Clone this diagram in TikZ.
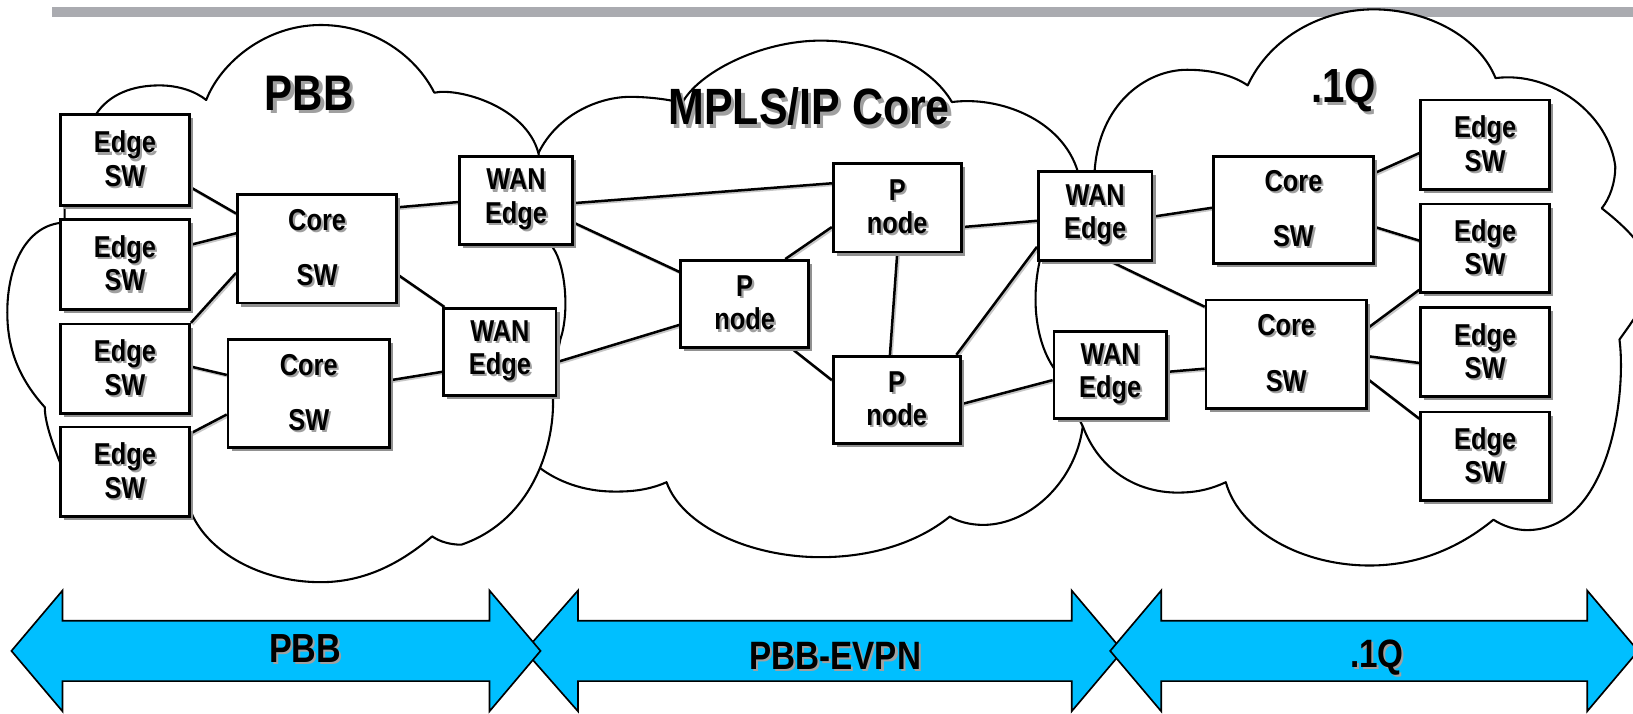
\documentclass[tikz,border=0pt]{standalone}
\usepackage{fontspec}
\setmainfont{Liberation Sans}[FakeStretch=0.84]
\usetikzlibrary{calc,shadows}
\definecolor{barcol}{RGB}{170,171,176}
\definecolor{arrowcol}{RGB}{0,191,255}
\definecolor{txtshadow}{RGB}{160,160,160}
\definecolor{boxshadow}{RGB}{145,145,145}
% text with a soft grey copy set slightly lower right
\newcommand\shd[2][2pt]{\leavevmode\rlap{\hspace{#1}\raisebox{-#1}{\textcolor{txtshadow}{#2}}}#2}
\pgfdeclarelayer{clouds}
\pgfdeclarelayer{links}
\pgfsetlayers{clouds,links,main}

\begin{document}
\begin{tikzpicture}[x=1pt,y=-1pt,
  box/.style={draw, line width=2.6pt, fill=white, inner sep=0pt, align=center,
    font=\bfseries\fontsize{29}{32}\selectfont,
    general shadow={fill=boxshadow, shadow xshift=3.5pt, shadow yshift=-3.5pt}},
  edgebox/.style={box, minimum width=124pt, minimum height=86pt},
  corebox/.style={box, minimum width=154pt, minimum height=104pt},
  wanbox/.style={box, minimum width=109pt, minimum height=85pt},
  pbox/.style={box, minimum width=123pt, minimum height=85pt},
  conn/.style={line width=2.4pt,
    preaction={draw=black!22, line width=2.4pt, transform canvas={shift={(1.5pt,-1.5pt)}}}},
  cloud/.style={fill=white, draw=black, line width=2pt, line join=round},
  title/.style={anchor=base, inner sep=0pt, font=\bfseries\fontsize{48}{52}\selectfont},
  band/.style={fill=arrowcol, draw=black, line width=1.6pt, line join=miter},
  bandlabel/.style={anchor=base, inner sep=0pt, font=\bfseries\fontsize{38}{42}\selectfont}]

\useasboundingbox (0,0) rectangle (1568,685);

\begin{pgfonlayer}{clouds}
\fill[white] (0,0) rectangle (1568,685);
% header rule
\fill[barcol] (50,7) rectangle (1568,16);

% MPLS/IP core cloud (lies underneath the two access clouds)
\path[cloud] (517,147) .. controls (535,110) and (575,93) .. (605,93)
  .. controls (625,93) and (645,96) .. (655,99)
  .. controls (670,70) and (730,39) .. (788,39)
  .. controls (845,39) and (895,65) .. (914,98)
  .. controls (960,92) and (1020,115) .. (1035,165)
  .. controls (1060,250) and (1060,350) .. (1040,406)
  .. controls (1035,460) and (990,504) .. (944,504)
  .. controls (932,504) and (920,501) .. (912,496)
  .. controls (880,522) and (835,535) .. (788,535)
  .. controls (720,535) and (655,505) .. (640,463)
  .. controls (620,472) and (600,472) .. (590,472)
  .. controls (560,472) and (535,462) .. (518,449)
  .. controls (495,380) and (495,220) .. (517,147) -- cycle;

% PBB access cloud
\path[cloud] (62,214) -- (62,190) .. controls (62,150) and (80,118) .. (92,110)
  .. controls (105,90) and (128,82) .. (153,82)
  .. controls (172,82) and (188,88) .. (198,96)
  .. controls (212,60) and (255,24) .. (308,24)
  .. controls (360,24) and (400,55) .. (417,89)
  .. controls (440,84) and (505,102) .. (517,147)
  .. controls (522,180) and (528,210) .. (531,238)
  .. controls (543,255) and (547,300) .. (538,326)
  .. controls (534,345) and (531,365) .. (531,384)
  .. controls (532,430) and (510,500) .. (443,523)
  .. controls (432,523) and (422,520) .. (415,515)
  .. controls (380,545) and (345,559) .. (308,559)
  .. controls (250,559) and (200,530) .. (184,493)
  -- (150,470) -- (58,445)
  .. controls (50,425) and (43,405) .. (43,391)
  .. controls (15,360) and (7,330) .. (7,300)
  .. controls (7,255) and (25,218) .. (58,214) -- cycle;

% .1Q access cloud
\path[cloud] (1051,165) .. controls (1055,100) and (1100,67) .. (1140,67)
  .. controls (1165,67) and (1185,73) .. (1198,82)
  .. controls (1220,35) and (1270,9) .. (1319,9)
  .. controls (1370,9) and (1420,35) .. (1436,75)
  .. controls (1490,68) and (1545,110) .. (1551,160)
  .. controls (1551,175) and (1546,190) .. (1538,200)
  .. controls (1570,225) and (1585,245) .. (1585,265)
  .. controls (1585,285) and (1570,305) .. (1555,326)
  .. controls (1562,380) and (1545,509) .. (1466,509)
  .. controls (1455,509) and (1443,505) .. (1434,499)
  .. controls (1400,527) and (1360,543) .. (1315,543)
  .. controls (1250,543) and (1190,510) .. (1177,463)
  .. controls (1160,471) and (1145,473) .. (1131,473)
  .. controls (1090,473) and (1055,450) .. (1040,410)
  .. controls (1030,390) and (1020,375) .. (1013,355)
  .. controls (995,330) and (990,290) .. (998,252)
  .. controls (1010,220) and (1040,190) .. (1051,165) -- cycle;
\end{pgfonlayer}

% switches and routers
\node[edgebox, minimum height=87pt] (E1) at (120,153.5) {\shd{Edge}\\\shd{SW}};
\node[edgebox] (E2) at (120,254) {\shd{Edge}\\\shd{SW}};
\node[edgebox] (E3) at (120,354) {\shd{Edge}\\\shd{SW}};
\node[edgebox] (E4) at (120,453) {\shd{Edge}\\\shd{SW}};
\node[corebox, minimum width=153pt] (C1) at (304.5,239) {\shd{Core}\\[21pt]\shd{SW}};
\node[corebox, minimum width=155pt] (C2) at (296.5,378) {\shd{Core}\\[21pt]\shd{SW}};
\node[wanbox] (W1) at (495.5,192.5) {\shd{WAN}\\\shd{Edge}};
\node[wanbox, minimum width=108pt, minimum height=84pt] (W2) at (480,338) {\shd{WAN}\\\shd{Edge}};
\node[pbox, minimum height=84pt] (PL) at (715,292) {\shd{P}\\\shd{node}};
\node[pbox] (PT) at (861.5,199.5) {\shd{P}\\\shd{node}};
\node[pbox, minimum width=122pt, minimum height=84pt] (PB) at (861,384) {\shd{P}\\\shd{node}};
\node[wanbox] (W3) at (1051.5,207.5) {\shd{WAN}\\\shd{Edge}};
\node[wanbox, minimum width=108pt, minimum height=84pt] (W4) at (1066,360) {\shd{WAN}\\\shd{Edge}};
\node[corebox, minimum height=103pt] (C3) at (1242,201.5) {\shd{Core}\\[21pt]\shd{SW}};
\node[corebox] (C4) at (1235,340) {\shd{Core}\\[21pt]\shd{SW}};
\node[edgebox] (R1) at (1426,139) {\shd{Edge}\\\shd{SW}};
\node[edgebox, minimum height=85pt] (R2) at (1426,238.5) {\shd{Edge}\\\shd{SW}};
\node[edgebox] (R3) at (1426,338) {\shd{Edge}\\\shd{SW}};
\node[edgebox, minimum height=85pt] (R4) at (1426,438) {\shd{Edge}\\\shd{SW}};

% links, kept under the boxes
\begin{pgfonlayer}{links}
\draw[conn] ($(E1.east)+(0,26.5)$) -- ($(C1.west)+(0,-34)$);
\draw[conn] ($(E2.east)+(0,-19)$) -- ($(C1.west)+(0,-15)$);
\draw[conn] ($(E3.east)+(0,-44)$) -- ($(C1.west)+(0,23)$);
\draw[conn] ($(E3.east)+(0,-2)$) -- ($(C2.west)+(0,-18)$);
\draw[conn] ($(E4.east)+(0,-37)$) -- ($(C2.west)+(0,20)$);
\draw[conn] ($(C1.east)+(0,-40)$) -- ($(W1.west)+(0,1.5)$);
\draw[conn] ($(C1.east)+(0,25)$) -- ($(W2.north west)+(2,0)$);
\draw[conn] ($(C2.east)+(0,-13)$) -- ($(W2.west)+(0,19)$);
\draw[conn] ($(W1.east)+(0,2.5)$) -- ($(PT.west)+(0,-23.5)$);
\draw[conn] ($(W1.east)+(0,21.5)$) -- ($(PL.west)+(0,-31)$);
\draw[conn] ($(W2.east)+(0,9.5)$) -- ($(PL.west)+(0,20)$);
\draw[conn] ($(PL.north)+(39,0)$) -- ($(PT.west)+(0,18.5)$);
\draw[conn] ($(PL.south)+(46,0)$) -- ($(PB.west)+(0,-19)$);
\draw[conn] (PT.south) -- ($(PB.north)+(-6.5,0)$);
\draw[conn] ($(PT.east)+(0,18.5)$) -- ($(W3.west)+(0,4.5)$);
\draw[conn] ($(PB.north east)+(-5,0)$) -- ($(W3.west)+(0,29.5)$);
\draw[conn] ($(PB.east)+(0,4)$) -- ($(W4.west)+(0,5)$);
\draw[conn] ($(W3.east)+(0,0.5)$) -- ($(C3.west)+(0,-2)$);
\draw[conn] ($(W3.south)+(15.5,0)$) -- ($(C4.west)+(0,-45.5)$);
\draw[conn] ($(W4.east)+(0,-3)$) -- ($(C4.west)+(0,14)$);
\draw[conn] ($(C3.east)+(0,-35.5)$) -- ($(R1.west)+(0,8)$);
\draw[conn] ($(C3.east)+(0,16.5)$) -- ($(R2.west)+(0,-7.5)$);
\draw[conn] ($(C4.east)+(0,-25)$) -- ($(R2.south west)+(0,-4)$);
\draw[conn] ($(C4.east)+(0,2)$) -- ($(R3.west)+(0,10.5)$);
\draw[conn] ($(C4.east)+(0,24)$) -- ($(R4.west)+(0,-36)$);
\end{pgfonlayer}

% cloud names
\node[title] (tpbb) at (297,106) {\shd[3pt]{PBB}};
\node[title, font=\bfseries\fontsize{49}{52}\selectfont] (tcore) at (777,120) {\shd[3pt]{MPLS/IP Core}};
\node[title, font=\bfseries\fontsize{46}{52}\selectfont] (tq) at (1290,98) {\shd[3pt]{.1Q}};

% service span bands
\path[band] (504,625) -- (555,567) -- (555,596) -- (1029,596) -- (1029,567) -- (1078,625)
  -- (1029,683) -- (1029,654) -- (555,654) -- (555,683) -- cycle;
\path[band] (11,625) -- (60,567) -- (60,596) -- (470,596) -- (470,567) -- (519,625)
  -- (470,683) -- (470,654) -- (60,654) -- (60,683) -- cycle;
\path[band] (1066,625) -- (1115,567) -- (1115,596) -- (1524,596) -- (1524,567) -- (1573,625)
  -- (1524,683) -- (1524,654) -- (1115,654) -- (1115,683) -- cycle;
\node[bandlabel, font=\bfseries\fontsize{39}{42}\selectfont] (lpbb) at (293,636) {\shd{PBB}};
\node[bandlabel] (levpn) at (802,643) {\shd{PBB-EVPN}};
\node[bandlabel] (lq) at (1322,641) {\shd{.1Q}};
\end{tikzpicture}
\end{document}
